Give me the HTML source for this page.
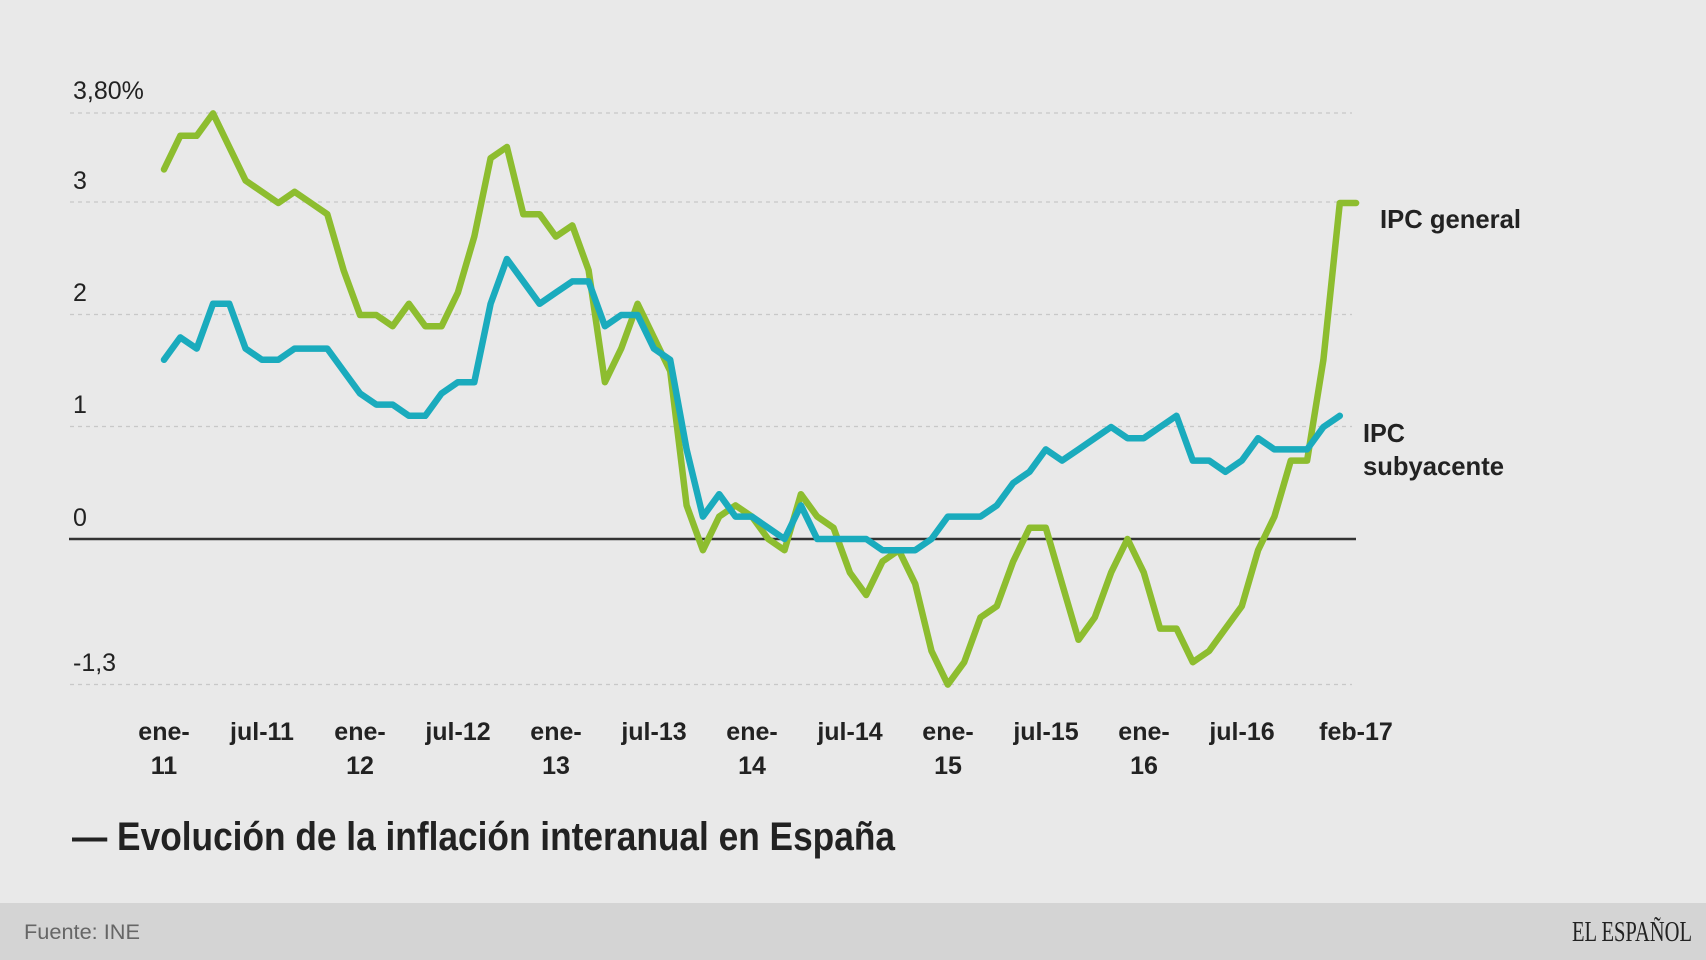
<!DOCTYPE html>
<html><head><meta charset="utf-8"><style>
html,body{margin:0;padding:0;}
body{width:1706px;height:960px;background:#e9e9e9;overflow:hidden;font-family:"Liberation Sans",sans-serif;}
</style></head><body>
<svg width="1706" height="960" xmlns="http://www.w3.org/2000/svg" style="position:absolute;left:0;top:0">
<rect x="0" y="0" width="1706" height="903" fill="#e9e9e9"/>
<rect x="0" y="903" width="1706" height="57" fill="#d4d4d4"/>
<g stroke="#c8c8c8" stroke-width="1.2" stroke-dasharray="4,4">
<line x1="70" y1="113" x2="1352" y2="113"/>
<line x1="70" y1="202" x2="1352" y2="202"/>
<line x1="70" y1="314.5" x2="1352" y2="314.5"/>
<line x1="70" y1="426.5" x2="1352" y2="426.5"/>
<line x1="70" y1="684.5" x2="1352" y2="684.5"/>
</g>
<line x1="69" y1="539" x2="1356" y2="539" stroke="#333" stroke-width="2.5"/>
<g font-size="25" fill="#222">
<text x="73" y="99">3,80%</text>
<text x="73" y="189">3</text>
<text x="73" y="301">2</text>
<text x="73" y="413">1</text>
<text x="73" y="526">0</text>
<text x="73" y="671">-1,3</text>
</g>
<polyline id="g" fill="none" stroke="#8dbd2f" stroke-width="6.5" stroke-linejoin="round" stroke-linecap="round"/>
<polyline id="b" fill="none" stroke="#1aabbd" stroke-width="6.5" stroke-linejoin="round" stroke-linecap="round"/>
<g font-size="25" font-weight="bold" fill="#222" text-anchor="middle">
<text x="164" y="740">ene-</text><text x="164" y="774">11</text>
<text x="262" y="740">jul-11</text>
<text x="360" y="740">ene-</text><text x="360" y="774">12</text>
<text x="458" y="740">jul-12</text>
<text x="556" y="740">ene-</text><text x="556" y="774">13</text>
<text x="654" y="740">jul-13</text>
<text x="752" y="740">ene-</text><text x="752" y="774">14</text>
<text x="850" y="740">jul-14</text>
<text x="948" y="740">ene-</text><text x="948" y="774">15</text>
<text x="1046" y="740">jul-15</text>
<text x="1144" y="740">ene-</text><text x="1144" y="774">16</text>
<text x="1242" y="740">jul-16</text>
<text x="1356" y="740">feb-17</text>
</g>
<g font-size="26" font-weight="bold" fill="#222">
<text x="1380" y="228" textLength="141" lengthAdjust="spacingAndGlyphs">IPC general</text>
<text x="1363" y="442" textLength="42" lengthAdjust="spacingAndGlyphs">IPC</text>
<text x="1363" y="475" textLength="141" lengthAdjust="spacingAndGlyphs">subyacente</text>
</g>
<text x="72" y="850" font-size="40" font-weight="bold" fill="#222" textLength="823" lengthAdjust="spacingAndGlyphs">— Evolución de la inflación interanual en España</text>
<text x="24" y="939" font-size="21" fill="#666" textLength="116" lengthAdjust="spacingAndGlyphs">Fuente: INE</text>
<text x="1572" y="941" font-size="28" fill="#222" font-family="Liberation Serif, serif" textLength="120" lengthAdjust="spacingAndGlyphs">EL ESPAÑOL</text>
</svg>
<script>
var G=[3.3,3.6,3.6,3.8,3.5,3.2,3.1,3.0,3.1,3.0,2.9,2.4,
2.0,2.0,1.9,2.1,1.9,1.9,2.2,2.7,3.4,3.5,2.9,2.9,
2.7,2.8,2.4,1.4,1.7,2.1,1.8,1.5,0.3,-0.1,0.2,0.3,
0.2,0.0,-0.1,0.4,0.2,0.1,-0.3,-0.5,-0.2,-0.1,-0.4,-1.0,
-1.3,-1.1,-0.7,-0.6,-0.2,0.1,0.1,-0.4,-0.9,-0.7,-0.3,0.0,
-0.3,-0.8,-0.8,-1.1,-1.0,-0.8,-0.6,-0.1,0.2,0.7,0.7,1.6,
3.0,3.0];
var B=[1.6,1.8,1.7,2.1,2.1,1.7,1.6,1.6,1.7,1.7,1.7,1.5,
1.3,1.2,1.2,1.1,1.1,1.3,1.4,1.4,2.1,2.5,2.3,2.1,
2.2,2.3,2.3,1.9,2.0,2.0,1.7,1.6,0.8,0.2,0.4,0.2,
0.2,0.1,0.0,0.3,0.0,0.0,0.0,0.0,-0.1,-0.1,-0.1,0.0,
0.2,0.2,0.2,0.3,0.5,0.6,0.8,0.7,0.8,0.9,1.0,0.9,
0.9,1.0,1.1,0.7,0.7,0.6,0.7,0.9,0.8,0.8,0.8,1.0,
1.1];
function pts(a){return a.map(function(v,i){return (164+i*16.33).toFixed(1)+","+(539-v*112).toFixed(1);}).join(" ");}
document.getElementById("g").setAttribute("points",pts(G));
document.getElementById("b").setAttribute("points",pts(B));
</script>
</body></html>
